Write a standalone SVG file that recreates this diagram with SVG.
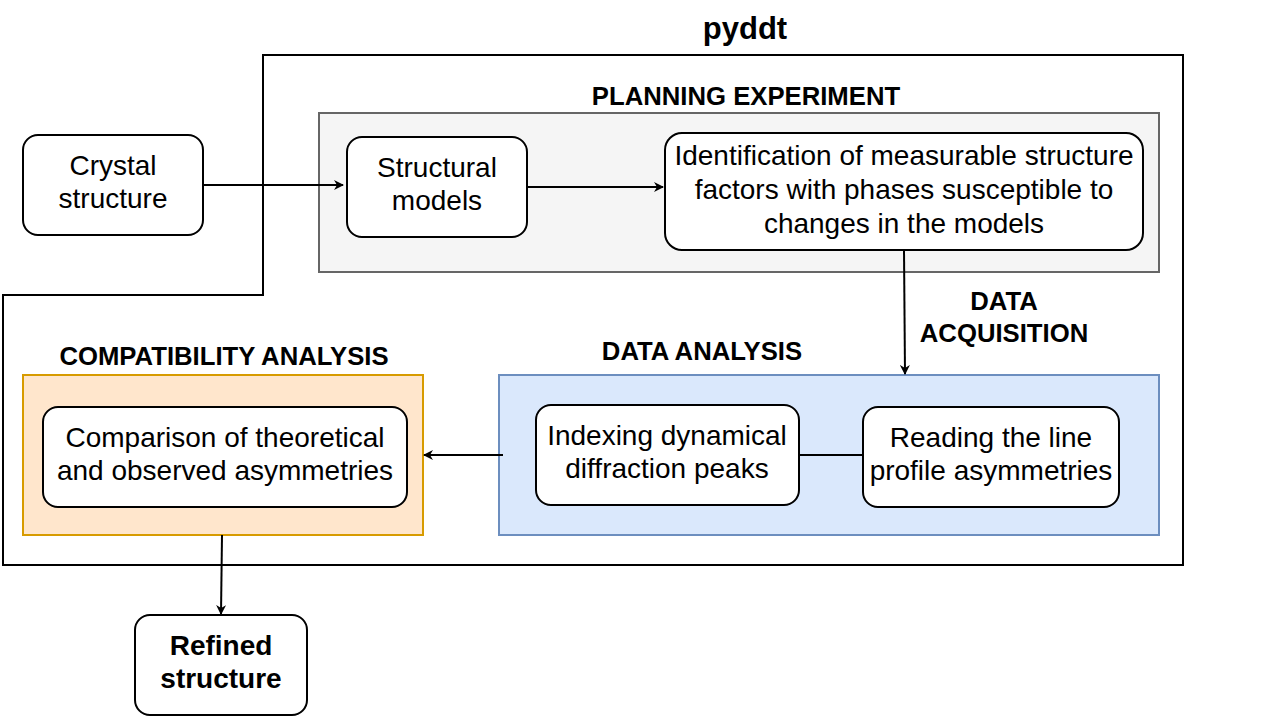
<svg xmlns="http://www.w3.org/2000/svg" width="1270" height="720" viewBox="0 0 1270 720">
<defs>
<marker id="arr" markerWidth="10" markerHeight="10" refX="9" refY="5" orient="auto" markerUnits="userSpaceOnUse"><path d="M0,0 L10,5 L0,10 L3,5 Z" fill="#000"/></marker>
<style>
.t{font-family:"Liberation Sans",Arial,sans-serif;font-size:28px;fill:#000;text-anchor:middle}
.b{font-family:"Liberation Sans",Arial,sans-serif;font-weight:bold;fill:#000;text-anchor:middle}
.node{fill:#fff;stroke:#000;stroke-width:2}
.e{fill:none;stroke:#000;stroke-width:2}
</style>
</defs>
<rect width="1270" height="720" fill="#fff"/>
<g id="pyddt">
<path d="M263,55 H1183 V565 H3 V295 H263 Z" fill="none" stroke="#000" stroke-width="2"/>
<text class="b" x="745" y="39" font-size="31">pyddt</text>
</g>
<g id="planning">
<rect x="319" y="113" width="840" height="159" fill="#f5f5f5" stroke="#666666" stroke-width="2"/>
<text class="b" x="746" y="105" font-size="25.7">PLANNING EXPERIMENT</text>
</g>
<g id="analysis">
<rect x="499" y="375" width="660" height="160" fill="#dae8fc" stroke="#6c8ebf" stroke-width="2"/>
<text class="b" x="702" y="360" font-size="25.7">DATA ANALYSIS</text>
</g>
<g id="compat">
<rect x="23" y="375" width="400" height="160" fill="#ffe6cc" stroke="#d79b00" stroke-width="2"/>
<text class="b" x="224" y="365" font-size="25.7">COMPATIBILITY ANALYSIS</text>
</g>
<g id="acq">
<text class="b" x="1004" y="310" font-size="25.7">DATA</text>
<text class="b" x="1004" y="342" font-size="25.7">ACQUISITION</text>
</g>
<g id="crystal">
<rect class="node" x="23" y="135" width="180" height="100" rx="15"/>
<text class="t" x="113" y="175">Crystal</text>
<text class="t" x="113" y="208">structure</text>
</g>
<g id="structural">
<rect class="node" x="347" y="137" width="180" height="100" rx="15"/>
<text class="t" x="437" y="177">Structural</text>
<text class="t" x="437" y="210">models</text>
</g>
<g id="ident">
<rect class="node" x="665" y="133" width="478" height="117" rx="17"/>
<text class="t" x="904" y="165">Identification of measurable structure</text>
<text class="t" x="904" y="199">factors with phases susceptible to</text>
<text class="t" x="904" y="233">changes in the models</text>
</g>
<g id="indexing">
<rect class="node" x="536" y="405" width="263" height="100" rx="15"/>
<text class="t" x="667" y="445">Indexing dynamical</text>
<text class="t" x="667" y="478">diffraction peaks</text>
</g>
<g id="reading">
<rect class="node" x="863" y="407" width="256" height="100" rx="15"/>
<text class="t" x="991" y="447">Reading the line</text>
<text class="t" x="991" y="480">profile asymmetries</text>
</g>
<g id="comparison">
<rect class="node" x="43" y="407" width="364" height="100" rx="15"/>
<text class="t" x="225" y="447">Comparison of theoretical</text>
<text class="t" x="225" y="480">and observed asymmetries</text>
</g>
<g id="refined">
<rect class="node" x="135" y="615" width="172" height="100" rx="15"/>
<text class="b" x="221" y="655" font-size="28">Refined</text>
<text class="b" x="221" y="688" font-size="28">structure</text>
</g>
<g id="connectors">
<path class="e" d="M203,185 H343" marker-end="url(#arr)"/>
<path class="e" d="M527,187 H663" marker-end="url(#arr)"/>
<path class="e" d="M904,250 L905,374" marker-end="url(#arr)"/>
<path class="e" d="M503,455 H424" marker-end="url(#arr)"/>
<path class="e" d="M799,455 H863"/>
<path class="e" d="M222,535 L221,614" marker-end="url(#arr)"/>
</g>
</svg>
